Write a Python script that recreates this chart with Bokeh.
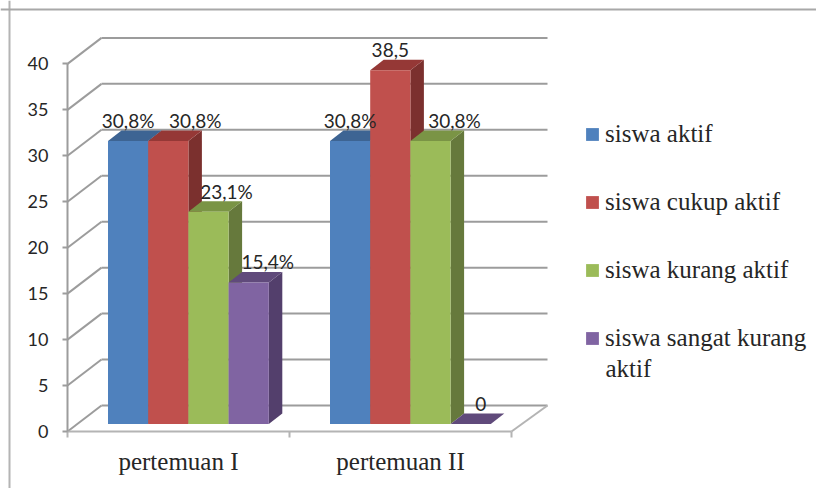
from bokeh.plotting import figure
from bokeh.models import (ColumnDataSource, FixedTicker, Legend, LegendItem, LinearAxis,
                          Range1d, Span, Label)
from bokeh.core.properties import value
from bokeh.embed import file_html
from bokeh.resources import INLINE

categories = ["pertemuan I", "pertemuan II"]
series_names = ["siswa aktif", "siswa cukup aktif", "siswa kurang aktif", "siswa sangat kurang"]
siswa_aktif = [30.8, 30.8]
siswa_cukup_aktif = [30.8, 38.5]
siswa_kurang_aktif = [23.1, 30.8]
siswa_sangat_kurang = [15.4, 0]
labels_aktif = ["30,8%", "30,8%"]
labels_cukup = ["30,8%", "38,5"]
labels_kurang = ["23,1%", "30,8%"]
labels_sangat = ["15,4%", "0"]
y_ticks = [0, 5, 10, 15, 20, 25, 30, 35, 40]

series = [siswa_aktif, siswa_cukup_aktif, siswa_kurang_aktif, siswa_sangat_kurang]
series_labels = [labels_aktif, labels_cukup, labels_kurang, labels_sangat]
front_colors = ["#4f81bd", "#c0504d", "#9bbb59", "#8064a2"]
top_colors = ["#3d6493", "#953836", "#7a9445", "#604a7b"]
side_colors = ["#355780", "#7b302e", "#66793c", "#533f6c"]
label_dx = [[0, 0], [27, 0], [18, 24], [19, 10]]

W, H = 816, 488
PX_X = 222.0          # pixels per category
PX_Y = 9.19           # pixels per value unit
LEFT, BOTTOM = 67, 57
SERIF = "Liberation Serif"
SANS = "Lato"
GRID = "#9c9c9c"
TEXT = "#262626"

p = figure(width=W, height=H, output_backend="svg", toolbar_location=None,
           x_axis_location=None, y_axis_location=None,
           x_range=Range1d(-LEFT / PX_X, (W - LEFT) / PX_X),
           y_range=Range1d(-BOTTOM / PX_Y, (H - BOTTOM) / PX_Y),
           min_border_left=0, min_border_bottom=0, min_border_top=0, min_border_right=0,
           outline_line_color=None, background_fill_color="white", border_fill_color="white")
p.grid.visible = False

wall_dx, wall_dy = 34 / PX_X, 26 / PX_Y
right_dx = 36 / PX_X
n_cat = len(categories)

# outer picture frame (left and top edges are the ones visible)
p.add_layout(Span(location=(9 - LEFT) / PX_X, dimension="height", line_color="#b4b4b4", line_width=2))
p.add_layout(Span(location=(H - BOTTOM - 9) / PX_Y, dimension="width", line_color="#a8a8a8", line_width=2))

# floor edges, back wall lines and side wall diagonals
p.segment([wall_dx] * len(y_ticks), [t + wall_dy for t in y_ticks],
          [n_cat + right_dx] * len(y_ticks), [t + wall_dy for t in y_ticks],
          line_color=GRID, line_width=2)
p.segment([0] * len(y_ticks), y_ticks, [wall_dx] * len(y_ticks), [t + wall_dy for t in y_ticks],
          line_color=GRID, line_width=2)
p.segment([n_cat], [0], [n_cat + right_dx], [wall_dy], line_color="#b4b4b4", line_width=2)

# bars
bar_w = 40.2 / PX_X
bar_gap0 = 40.5 / PX_X
bar_dx, bar_dy = 13.5 / PX_X, 10.5 / PX_Y
base = 7.5 / PX_Y
renderers = []
lx, ly, lt, loff = [], [], [], []
for c in range(n_cat):
    for s, vals in enumerate(series):
        v = vals[c]
        x0 = c + bar_gap0 + s * bar_w
        x1 = x0 + bar_w
        y0 = base
        y1 = base + v
        p.patch([x1, x1 + bar_dx, x1 + bar_dx, x1], [y0, y0 + bar_dy, y1 + bar_dy, y1],
                fill_color=side_colors[s], line_color=None)
        p.patch([x0, x1, x1 + bar_dx, x0 + bar_dx], [y1, y1, y1 + bar_dy, y1 + bar_dy],
                fill_color=top_colors[s], line_color=None)
        r = p.quad(left=x0, right=x1, bottom=y0, top=y1, fill_color=front_colors[s],
                   line_color=None)
        if c == 0:
            renderers.append(r)
        lx.append((x0 + x1) / 2)
        ly.append(y1 + 20.5 / PX_Y)
        lt.append(series_labels[s][c])
        loff.append(label_dx[s][c])

p.text(x="x", y="y", text="t", x_offset="o",
       source=ColumnDataSource(dict(x=lx, y=ly, t=lt, o=loff)),
       text_align="center", text_baseline="middle", text_font=value(SANS),
       text_font_size="19px", text_color=TEXT)

# axes
yax = LinearAxis(ticker=FixedTicker(ticks=y_ticks), bounds=(0, 40), fixed_location=0)
yax.axis_line_color = GRID
yax.axis_line_width = 2
yax.major_tick_line_color = GRID
yax.major_tick_line_width = 2
yax.major_tick_in = 0
yax.major_tick_out = 5
yax.minor_tick_line_color = None
yax.major_label_standoff = 14
yax.major_label_text_font = SANS
yax.major_label_text_font_size = "18px"
yax.major_label_text_color = TEXT
p.add_layout(yax, "left")

centers = [0.5, 1.5]
xax = LinearAxis(ticker=FixedTicker(ticks=centers, minor_ticks=[0, 1, 2]), bounds=(0, n_cat),
                 fixed_location=0)
xax.major_label_overrides = {centers[i]: categories[i] for i in range(n_cat)}
xax.axis_line_color = "#b4b4b4"
xax.axis_line_width = 2
xax.major_tick_line_color = None
xax.major_tick_out = 0
xax.major_tick_in = 0
xax.minor_tick_line_color = "#b4b4b4"
xax.minor_tick_line_width = 2
xax.minor_tick_in = 0
xax.minor_tick_out = 6
xax.major_label_standoff = 10
xax.major_label_text_font = SERIF
xax.major_label_text_font_size = "25px"
xax.major_label_text_color = TEXT
p.add_layout(xax, "below")

# legend
items = [LegendItem(label=series_names[i], renderers=[renderers[i]]) for i in range(4)]
legend = Legend(items=items, location=(584, 136), background_fill_alpha=0, border_line_color=None,
                glyph_width=16, glyph_height=16, label_standoff=5, spacing=40, padding=0, margin=0,
                label_text_font=SERIF, label_text_font_size="25px", label_text_color=TEXT,
                label_height=27)
p.add_layout(legend, "center")
p.add_layout(Label(x=605, y=120, x_units="screen", y_units="screen", text="aktif",
                   text_font=SERIF, text_font_size="25px", text_color=TEXT,
                   text_baseline="middle"))

open("out.html", "w").write(file_html(p, INLINE))
